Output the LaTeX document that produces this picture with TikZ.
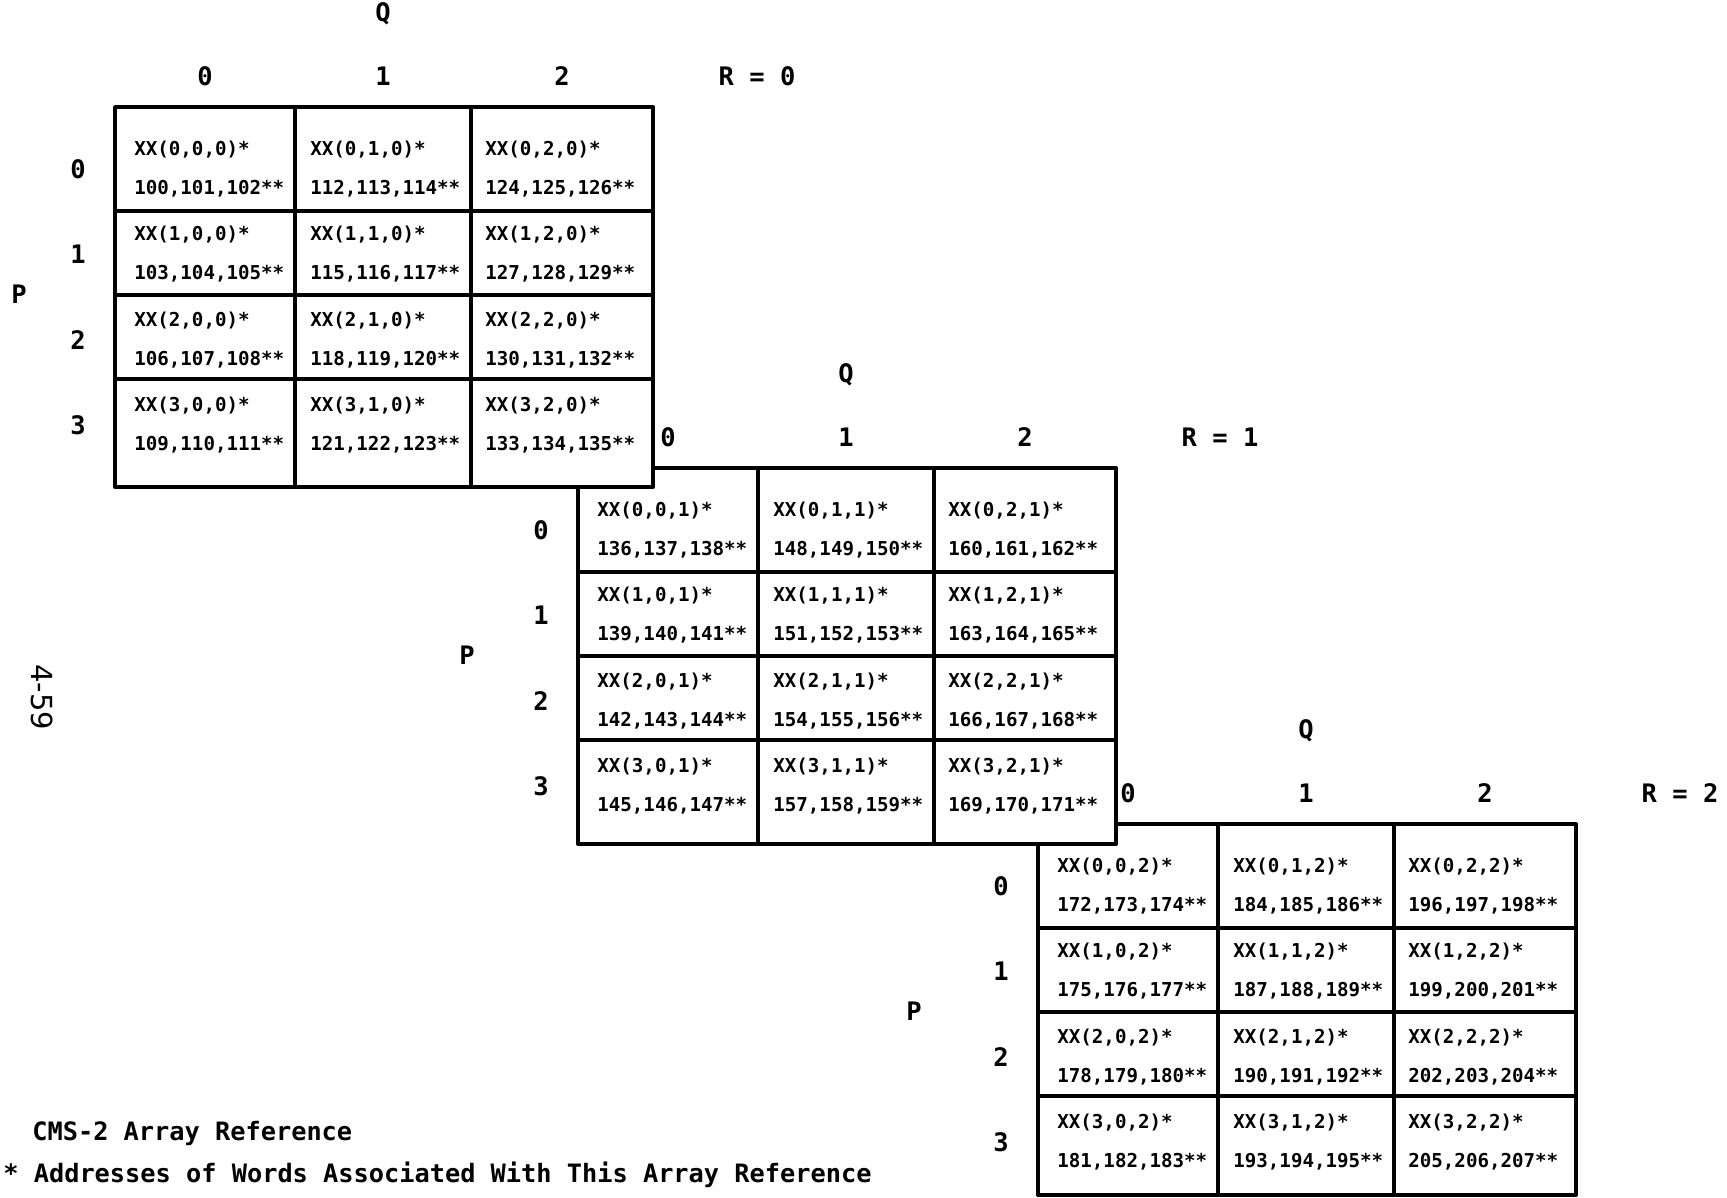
\documentclass[tikz,border=0pt]{standalone}
\usepackage{fontspec}
\setmonofont{DejaVu Sans Mono}
\setsansfont{DejaVu Sans}

\begin{document}
\begin{tikzpicture}[
    x=0.02cm, y=-0.02cm,
    every node/.style={inner sep=0pt},
    gridline/.style={line width=2.2pt, line join=round},
    cell/.style={
        anchor=west,
        align=left,
        font=\ttfamily\bfseries\fontsize{10.9}{21.9}\selectfont,
    },
    axis/.style={font=\ttfamily\bfseries\fontsize{14.5}{16}\selectfont},
    note/.style={anchor=west, font=\ttfamily\bfseries\fontsize{14.4}{16}\selectfont},
]
\useasboundingbox (0,0) rectangle (1727,1197);

% the three R planes, back to front
\foreach \r/\gx/\gy/\gh/\px in {2/1038/824/371/-124, 1/578/468/376/-111, 0/115/107/380/-96} {
  \begin{scope}[shift={(\gx,\gy)}]
    \draw[gridline, fill=white] (0,0) rectangle (538,\gh);
    \draw[gridline] (180,0) -- (180,\gh) (356,0) -- (356,\gh);
    \draw[gridline] (0,104) -- (538,104) (0,188) -- (538,188) (0,272) -- (538,272);

    \node[axis] (Q\r) at (268,-93) {Q};
    \node[axis] (R\r) at (642,-31) {R = \r};
    \node[axis] (P\r) at (\px,187) {P};

    \foreach \q in {0,1,2} {
      \pgfmathsetmacro\lx{{90,268,447}[\q]}
      \node[axis] (q\r-\q) at (\lx,-31) {\q};
    }
    \foreach \p in {0,...,3} {
      \pgfmathsetmacro\cy{{62,147,233,318}[\p]}
      \node[axis] (p\r-\p) at (-37,\cy) {\p};
      \foreach \q in {0,1,2} {
        \pgfmathsetmacro\cx{{19,195,370}[\q]}
        \pgfmathtruncatemacro\addr{100+36*\r+12*\q+3*\p}
        \pgfmathtruncatemacro\addrb{\addr+1}
        \pgfmathtruncatemacro\addrc{\addr+2}
        \node[cell] (c\p-\q-\r) at (\cx,\cy) {XX(\p,\q,\r)*\\\addr,\addrb,\addrc**};
      }
    }
  \end{scope}
}

% page number and footnotes
\node[font=\sffamily\fontsize{16.5}{18}\selectfont, rotate=-90] (page) at (42,697) {4-59};
\node[note] (cms) at (32,1133) {CMS-2 Array Reference};
\node[note] (words) at (3,1175) {* Addresses of Words Associated With This Array Reference};

\end{tikzpicture}
\end{document}
